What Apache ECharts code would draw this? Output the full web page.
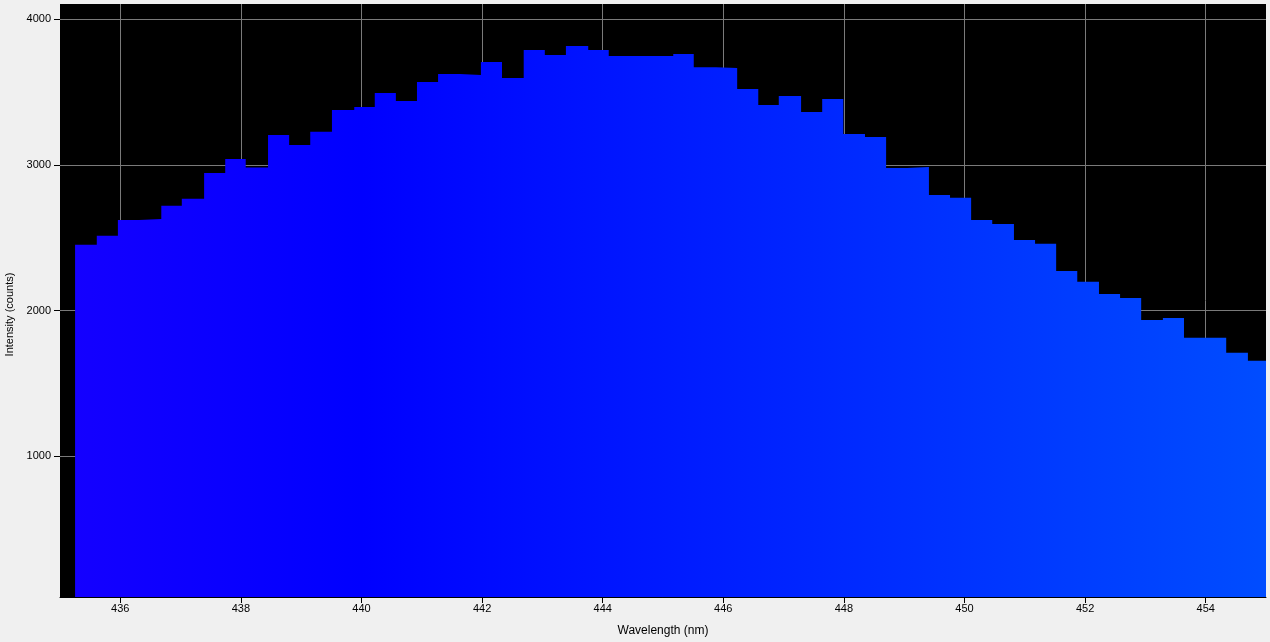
<!DOCTYPE html>
<html>
<head>
<meta charset="utf-8">
<script src="https://cdn.jsdelivr.net/npm/echarts@6/dist/echarts.min.js"></script>
<style>
  html, body { margin: 0; padding: 0; background: #f0f0f0; }
  #main { width: 1270px; height: 642px; }
</style>
</head>
<body>
<div id="main"></div>
<script>
// bin edges (nm) of the spectrum, last entry is the right edge of the last bin
var wavelengths = [
    435.25, 435.61, 435.96, 436.31, 436.68, 437.02, 437.39, 437.74, 438.08, 438.45,
    438.80, 439.15, 439.51, 439.88, 440.22, 440.57, 440.92, 441.27, 441.63, 441.98,
    442.33, 442.69, 443.04, 443.39, 443.76, 444.10, 444.45, 444.82, 445.17, 445.51,
    445.88, 446.23, 446.58, 446.92, 447.29, 447.64, 447.99, 448.35, 448.70, 449.05,
    449.41, 449.76, 450.11, 450.46, 450.82, 451.17, 451.52, 451.87, 452.23, 452.58,
    452.93, 453.29, 453.64, 453.99, 454.34, 454.70, 455.05
];
var intensity = [
    2451, 2513, 2622, 2629, 2719, 2767, 2945, 3041, 2982, 3206,
    3137, 3227, 3377, 3398, 3494, 3439, 3570, 3625, 3618, 3707,
    3597, 3789, 3755, 3817, 3789, 3748, 3748, 3748, 3762, 3671,
    3665, 3521, 3411, 3473, 3363, 3453, 3212, 3191, 2979, 2986,
    2794, 2774, 2622, 2595, 2485, 2458, 2272, 2197, 2114, 2087,
    1935, 1949, 1813, 1813, 1710, 1655
];
var xTicks = [436, 438, 440, 442, 444, 446, 448, 450, 452, 454];
var yTicks = [1000, 2000, 3000, 4000];

function draw() {
    var points = [];
    for (var i = 0; i < wavelengths.length; i++) {
        var v = i < intensity.length ? intensity[i] : intensity[intensity.length - 1];
        points.push([wavelengths[i], v]);
    }
    drawSpectrum(points);
}

function drawSpectrum(points) {
    var myChart = echarts.init(document.getElementById('main'), null, {
        width: 1270,
        height: 642
    });
    var font = 'Liberation Sans';
    var option = {
        animation: false,
        backgroundColor: '#f0f0f0',
        grid: {
            left: 60,
            right: 4,
            top: 4,
            bottom: 45,
            containLabel: false,
            outerBoundsMode: 'none',
            show: true,
            backgroundColor: '#000',
            borderWidth: 0
        },
        xAxis: {
            type: 'value',
            min: 435,
            max: 455,
            name: 'Wavelength (nm)',
            nameLocation: 'middle',
            nameGap: 28,
            nameTextStyle: { color: '#000', fontFamily: font, fontSize: 12 },
            axisLine: { show: true, lineStyle: { color: '#000', width: 1 } },
            axisTick: { show: true, length: 6, lineStyle: { color: '#000' }, customValues: xTicks },
            axisLabel: {
                color: '#000', fontFamily: font, fontSize: 11, margin: 6, customValues: xTicks,
                formatter: function (v) { return String(v); }
            },
            splitLine: { show: true, lineStyle: { color: '#7a7a7a', width: 1 } }
        },
        yAxis: {
            type: 'value',
            min: 33,
            max: 4105,
            name: 'Intensity (counts)',
            nameLocation: 'middle',
            nameGap: 44,
            nameTextStyle: { color: '#000', fontFamily: font, fontSize: 11, padding: [0, 28, 0, 0] },
            axisLine: { show: false },
            axisTick: { show: true, length: 6, lineStyle: { color: '#000' }, customValues: yTicks },
            axisLabel: {
                color: '#000', fontFamily: font, fontSize: 11, margin: 9, customValues: yTicks,
                formatter: function (v) { return String(v); }
            },
            splitLine: { show: true, lineStyle: { color: '#7a7a7a', width: 1 } }
        },
        series: [
            {
                type: 'line',
                step: 'end',
                data: points,
                showSymbol: false,
                clip: true,
                lineStyle: { width: 0 },
                areaStyle: {
                    opacity: 1,
                    color: new echarts.graphic.LinearGradient(0, 0, 1, 0, [
                        { offset: 0, color: 'rgb(20,0,255)' },
                        { offset: 0.24, color: 'rgb(0,0,255)' },
                        { offset: 1, color: 'rgb(0,77,255)' }
                    ])
                }
            }
        ]
    };
    myChart.setOption(option);
}

draw();
</script>
</body>
</html>
